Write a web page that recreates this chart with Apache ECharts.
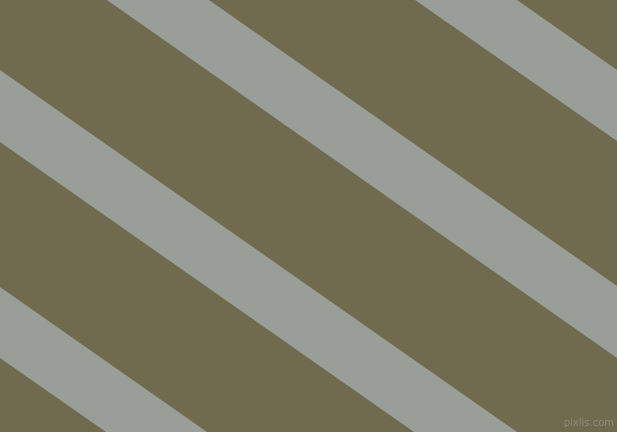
<!DOCTYPE html>
<html>
<head>
<meta charset="utf-8">
<script src="https://cdn.jsdelivr.net/npm/echarts@6/dist/echarts.min.js"></script>
<style>
  html, body { margin: 0; padding: 0; }
  #chart { width: 617px; height: 432px; }
</style>
</head>
<body>
<div id="chart"></div>
<script>
// stripe edges, in picture units (x 0..617, y 0..432 from top)
var upperStart = [[517, 0], [209, 0], [0, 70], [0, 287]];
var upperEnd   = [[617, 70], [617, 286], [517, 432], [207, 432]];
var lowerStart = [[415, 0], [107, 0], [0, 142], [0, 358]];
var lowerEnd   = [[617, 141], [617, 358], [414, 432], [106, 432]];

var bgColor = '#706a4f';
var stripeColor = '#9a9e98';

var chart;
window.onload = function () {
    initStripes();
};

function initStripes() {
    chart = echarts.init(document.getElementById('chart'));

    var rows = [];
    for (var i = 0; i < upperStart.length; i++) {
        rows.push([
            upperStart[i][0], upperStart[i][1],
            upperEnd[i][0], upperEnd[i][1],
            lowerEnd[i][0], lowerEnd[i][1],
            lowerStart[i][0], lowerStart[i][1]
        ]);
    }

    var option = {
        backgroundColor: bgColor,
        animation: false,
        grid: { left: 0, right: 0, top: 0, bottom: 0 },
        xAxis: { type: 'value', min: 0, max: 617, show: false },
        yAxis: { type: 'value', min: 0, max: 432, inverse: true, show: false },
        graphic: [
            {
                type: 'text',
                right: 3,
                bottom: 4,
                style: {
                    text: 'pixlis.com',
                    fill: '#8f8c7a',
                    font: '10px "DejaVu Sans"'
                }
            }
        ],
        series: [
            {
                type: 'custom',
                clip: true,
                encode: { x: [0, 2, 4, 6], y: [1, 3, 5, 7] },
                data: rows,
                renderItem: function (params, api) {
                    var pts = [];
                    for (var k = 0; k < 4; k++) {
                        pts.push(api.coord([api.value(k * 2), api.value(k * 2 + 1)]));
                    }
                    return {
                        type: 'polygon',
                        shape: { points: pts },
                        style: { fill: stripeColor }
                    };
                }
            }
        ]
    };

    chart.setOption(option);
}
</script>
</body>
</html>
